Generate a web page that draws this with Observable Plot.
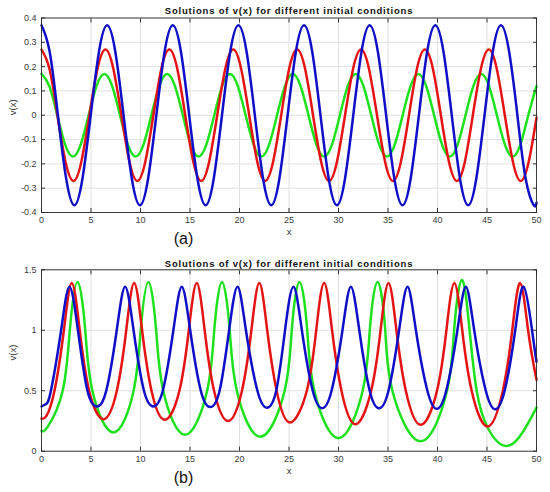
<!DOCTYPE html>
<html><head><meta charset="utf-8">
<script src="https://cdn.jsdelivr.net/npm/d3@7"></script>
<script src="https://cdn.jsdelivr.net/npm/@observablehq/plot@0.6"></script>
<style>
body{margin:0;background:#fff;}
#wrap{width:550px;}
#wrap svg{display:block;}
</style></head><body><div id="wrap"></div>
<script>
const titleText = "Solutions of v(x) for different initial conditions";
const xTicks = [0,5,10,15,20,25,30,35,40,45,50];
const topYTicks = [-0.4,-0.3,-0.2,-0.1,0,0.1,0.2,0.3,0.4];
const botYTicks = [0,0.5,1,1.5];
const colors = {blue:"#0f0fc8", red:"#e51414", green:"#1ee11e"};

// (a) top panel: [x, v(x)]
const topBlue = [[0,.37],[0.83,.26],[1.66,0],[2.49,-.26],[3.32,-.37],[4.14,-.26],[4.97,0],[5.8,.26],
[6.63,.37],[7.46,.26],[8.29,0],[9.12,-.26],[9.95,-.37],[10.77,-.26],[11.6,0],[12.43,.26],
[13.26,.37],[14.09,.26],[14.92,0],[15.75,-.26],[16.58,-.37],[17.4,-.26],[18.23,0],[19.06,.26],
[19.89,.37],[20.72,.26],[21.55,0],[22.38,-.26],[23.21,-.37],[24.03,-.26],[24.86,0],[25.69,.26],
[26.52,.37],[27.35,.26],[28.18,0],[29.01,-.26],[29.84,-.37],[30.66,-.26],[31.49,0],[32.32,.26],
[33.15,.37],[33.98,.26],[34.81,0],[35.64,-.26],[36.47,-.37],[37.29,-.26],[38.12,0],[38.95,.26],
[39.78,.37],[40.61,.26],[41.44,0],[42.27,-.26],[43.1,-.37],[43.92,-.26],[44.75,0],[45.58,.26],
[46.41,.37],[47.24,.26],[48.07,0],[48.9,-.26],[49.73,-.37],[50,-.36]];
const topRed = [[0,.27],[0.81,.19],[1.61,0],[2.42,-.19],[3.23,-.27],[4.03,-.19],[4.84,0],[5.65,.19],
[6.46,.27],[7.26,.19],[8.07,0],[8.88,-.19],[9.68,-.27],[10.49,-.19],[11.3,0],[12.1,.19],
[12.91,.27],[13.72,.19],[14.52,0],[15.33,-.19],[16.14,-.27],[16.94,-.19],[17.75,0],[18.56,.19],
[19.37,.27],[20.17,.19],[20.98,0],[21.79,-.19],[22.59,-.27],[23.4,-.19],[24.21,0],[25.01,.19],
[25.82,.27],[26.63,.19],[27.43,0],[28.24,-.19],[29.05,-.27],[29.85,-.19],[30.66,0],[31.47,.19],
[32.28,.27],[33.08,.19],[33.89,0],[34.7,-.19],[35.5,-.27],[36.31,-.19],[37.12,0],[37.92,.19],
[38.73,.27],[39.54,.19],[40.34,0],[41.15,-.19],[41.96,-.27],[42.77,-.19],[43.57,0],[44.38,.19],
[45.19,.27],[45.99,.19],[46.8,0],[47.61,-.19],[48.41,-.27],[49.22,-.19],[50,-.01]];
const topGreen = [[0,.17],[0.79,.12],[1.59,0],[2.38,-.12],[3.17,-.17],[3.97,-.12],[4.76,0],[5.55,.12],
[6.35,.17],[7.14,.12],[7.93,0],[8.72,-.12],[9.52,-.17],[10.31,-.12],[11.1,0],[11.9,.12],
[12.69,.17],[13.48,.12],[14.28,0],[15.07,-.12],[15.86,-.17],[16.66,-.12],[17.45,0],[18.24,.12],
[19.04,.17],[19.83,.12],[20.62,0],[21.42,-.12],[22.21,-.17],[23.0,-.12],[23.79,0],[24.59,.12],
[25.38,.17],[26.17,.12],[26.97,0],[27.76,-.12],[28.55,-.17],[29.35,-.12],[30.14,0],[30.93,.12],
[31.73,.17],[32.52,.12],[33.31,0],[34.1,-.12],[34.9,-.17],[35.69,-.12],[36.48,0],[37.28,.12],
[38.07,.17],[38.86,.12],[39.66,0],[40.45,-.12],[41.24,-.17],[42.04,-.12],[42.83,0],[43.62,.12],
[44.42,.17],[45.21,.12],[46.0,0],[46.8,-.12],[47.59,-.17],[48.38,-.12],[49.17,0],[50,.12]];

// (b) bottom panel: [x, v(x)]
const botBlue = [[0,0.37],[0.45,0.39],[0.95,0.5],[1.98,1.0],[2.83,1.36],[3.68,1.0],[4.64,0.5],[5.59,0.37],[6.54,0.5],[7.6,1.0],[8.45,1.36],[9.3,1.0],[10.35,0.5],[11.3,0.37],[12.25,0.5],[13.32,1.0],[14.17,1.36],[15.02,1.0],[16.09,0.5],[17.04,0.365],[17.99,0.5],[18.95,1.0],[19.8,1.36],[20.65,1.0],[21.81,0.5],[22.76,0.36],[23.71,0.5],[24.6,1.0],[25.45,1.36],[26.3,1.0],[27.4,0.5],[28.35,0.356],[29.3,0.5],[30.4,1.0],[31.25,1.36],[32.1,1.0],[33.15,0.5],[34.1,0.355],[35.05,0.5],[36.12,1.0],[36.97,1.36],[37.82,1.0],[38.98,0.5],[39.93,0.35],[40.88,0.5],[42.01,1.0],[42.86,1.36],[43.71,1.0],[44.88,0.5],[45.83,0.347],[46.78,0.5],[47.85,1.0],[48.7,1.36],[49.55,1.0],[50,0.74]];
const botRed = [[0,0.27],[0.5,0.292],[1.31,0.5],[2.26,1.0],[3.06,1.39],[3.86,1.0],[4.81,0.5],[6.26,0.265],[7.61,0.5],[8.56,1.0],[9.36,1.39],[10.16,1.0],[11.11,0.5],[12.45,0.26],[13.93,0.5],[14.88,1.0],[15.68,1.39],[16.48,1.0],[17.43,0.5],[18.85,0.25],[20.25,0.5],[21.2,1.0],[22.0,1.39],[22.8,1.0],[23.75,0.5],[25.1,0.237],[26.8,0.5],[27.75,1.0],[28.55,1.39],[29.35,1.0],[30.3,0.5],[31.7,0.223],[33.3,0.5],[34.25,1.0],[35.05,1.39],[35.85,1.0],[36.8,0.5],[38.3,0.218],[39.95,0.5],[40.9,1.0],[41.7,1.39],[42.5,1.0],[43.45,0.5],[45.05,0.204],[46.6,0.5],[47.55,1.0],[48.35,1.39],[49.15,1.0],[50,0.59]];
const botGreen = [[0,0.17],[0.65,0.205],[2.14,0.5],[2.86,1.0],[3.64,1.40],[4.42,1.0],[5.14,0.5],[7.27,0.155],[9.3,0.5],[10.02,1.0],[10.8,1.40],[11.58,1.0],[12.3,0.5],[14.5,0.135],[16.73,0.5],[17.45,1.0],[18.23,1.40],[19.01,1.0],[19.73,0.5],[22.1,0.12],[24.56,0.5],[25.28,1.0],[26.06,1.40],[26.84,1.0],[27.56,0.5],[30.0,0.108],[32.44,0.5],[33.16,1.0],[33.94,1.40],[34.72,1.0],[35.44,0.5],[38.3,0.083],[40.96,0.5],[41.68,1.0],[42.46,1.415],[43.24,1.0],[43.96,0.5],[45.1,0.19],[47.34,0.05],[50,0.36]];

const fontFamily = "'Liberation Sans', Arial, Helvetica, sans-serif";

function panel(cfg) {
  const lines = cfg.series.map(s => Plot.line(s.data, {
    x: d => d[0], y: d => d[1], stroke: s.color, strokeWidth: 2.5, curve: cfg.curve
  }));
  const svg = Plot.plot({
    width: 550, height: cfg.height,
    marginLeft: 41, marginRight: 14, marginTop: cfg.marginTop, marginBottom: cfg.marginBottom,
    style: {fontFamily, fontSize: "9px", color: "#3c3c3c", background: "#fff", overflow: "visible"},
    x: {domain: [0, 50]},
    y: {domain: cfg.yDomain},
    marks: [
      Plot.gridX(xTicks, {stroke: "#e1e1e1", strokeOpacity: 1}),
      Plot.gridY(cfg.yTicks, {stroke: "#e1e1e1", strokeOpacity: 1}),
      ...lines,
      Plot.axisX(xTicks, {anchor: "bottom", tickSize: -4, tickPadding: 8, label: null, tickFormat: d => String(d), stroke: "#333"}),
      Plot.axisX(xTicks, {anchor: "top", tickSize: -4, label: null, tickFormat: () => "", stroke: "#333"}),
      Plot.axisY(cfg.yTicks, {anchor: "left", tickSize: -4, tickPadding: 9, label: null, tickFormat: d => String(d), stroke: "#333"}),
      Plot.axisY(cfg.yTicks, {anchor: "right", tickSize: -4, label: null, tickFormat: () => "", stroke: "#333"}),
      Plot.frame({stroke: "#2a2a2a", strokeWidth: 0.9}),
      Plot.text([titleText], {frameAnchor: "top", lineAnchor: "middle", dy: cfg.titleDy, fontWeight: "bold", fontSize: 9.5, fill: "#111"}),
      Plot.text(["x"], {frameAnchor: "bottom", lineAnchor: "middle", dy: cfg.xLabelDy, fontSize: 9.5, fill: "#333"}),
      Plot.text(["v(x)"], {frameAnchor: "left", lineAnchor: "middle", dx: -29, rotate: -90, fontSize: 9.5, fill: "#333"}),
      Plot.text([cfg.tag], {frameAnchor: "bottom-left", lineAnchor: "middle", textAnchor: "middle", dx: 142, dy: cfg.tagDy, fontSize: 16, fill: "#111"})
    ]
  });
  d3.select(svg).selectAll("text").filter(function() { return this.textContent === titleText; })
    .attr("letter-spacing", "0.8px");
  return svg;
}

const wrap = document.getElementById("wrap");
wrap.append(panel({
  series: [
    {data: topGreen, color: colors.green},
    {data: topRed, color: colors.red},
    {data: topBlue, color: colors.blue}
  ],
  curve: "natural", yDomain: [-0.4, 0.4], yTicks: topYTicks,
  height: 246, marginTop: 17.5, marginBottom: 34,
  titleDy: -7.5, xLabelDy: 19, tagDy: 26, tag: "(a)"
}));
wrap.append(panel({
  series: [
    {data: botGreen, color: colors.green},
    {data: botRed, color: colors.red},
    {data: botBlue, color: colors.blue}
  ],
  curve: "natural", yDomain: [0, 1.5], yTicks: botYTicks,
  height: 246, marginTop: 23.3, marginBottom: 41.3,
  titleDy: -6.3, xLabelDy: 19.3, tagDy: 27, tag: "(b)"
}));
</script></body></html>
